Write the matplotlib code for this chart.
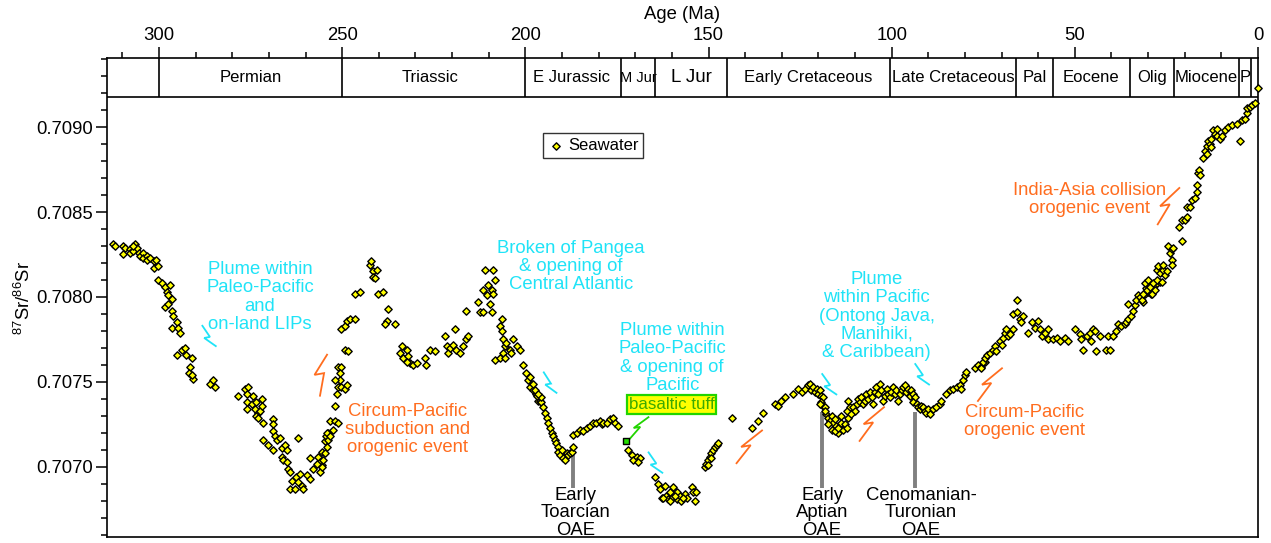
import numpy as np
import matplotlib
matplotlib.use("Agg")
import matplotlib.pyplot as plt

plt.rcParams["font.family"] = ["Liberation Sans", "DejaVu Sans"]
plt.rcParams["mathtext.fontset"] = "custom"
plt.rcParams["mathtext.rm"] = "Liberation Sans"
plt.rcParams["mathtext.it"] = "Liberation Sans:italic"

# ---- Seawater 87Sr/86Sr (age in Ma) ----
permian_age = [312.5, 312.0, 309.7, 309.3, 309.7, 307.9, 307.9, 306.5, 307.0, 306.1, 305.4, 305.2,
               304.3, 304.3, 303.4, 303.4, 302.5, 301.5, 301.5, 300.8, 300.2, 307.0,
               300.2, 299.3, 298.4, 297.0, 297.9, 297.5, 296.5, 298.4, 297.5, 296.5, 296.1, 295.2,
               296.5, 294.7, 294.3, 295.2, 293.8, 292.9, 292.5, 291.1, 291.5, 291.7, 290.8, 291.1,
               286.1, 285.2, 284.7, 278.4, 276.5, 275.6, 276.1, 276.1, 274.7, 276.1, 274.3, 273.8,
               273.4, 272.9, 272.5, 272.0, 272.0, 271.7, 273.5, 272.9,
               268.8, 268.8, 268.8, 268.4, 267.9, 267.0, 271.7, 270.2, 268.8, 266.5, 265.6, 265.2,
               266.5, 266.1, 265.2, 264.7, 264.3, 263.8, 264.3, 262.5, 262.9, 262.0, 261.5, 261.1,
               260.6, 262.0, 258.8, 257.9, 256.5, 255.6, 256.1, 255.6, 254.7, 254.3, 253.4, 253.8,
               259.7, 258.8, 257.0, 256.1]
permian_sr = [.70831, .70830, .70830, .70829, .70825, .70828, .70826, .70831, .70827, .70829, .70826, .70824,
              .70826, .70823, .70824, .70822, .70823, .70821, .70817, .70822, .70818, .70830,
              .70810, .70808, .70806, .70807, .70803, .70801, .70799, .70794, .70796, .70792, .70789, .70785,
              .70782, .70782, .70779, .70766, .70769, .70770, .70766, .70764, .70759, .70755, .70752, .70754,
              .70749, .70751, .70747, .70742, .70746, .70747, .70743, .70738, .70737, .70734, .70742, .70734,
              .70738, .70732, .70733, .70740, .70736, .70726, .70730, .70729,
              .70728, .70725, .70721, .70718, .70716, .70717, .70716, .70713, .70710, .70711, .70713, .70710,
              .70706, .70704, .70703, .70699, .70697, .70692, .70687, .70694, .70687, .70691, .70696, .70689,
              .70687, .70717, .70705, .70699, .70706, .70709, .70703, .70701, .70715, .70718, .70727, .70720,
              .70695, .70693, .70702, .70697]

triassic_age = [255.6, 255.2, 254.7, 254.2, 253.8, 254.2, 253.3, 252.4, 252.0, 251.1, 252.0, 251.5,
                251.1, 250.2, 249.2, 248.8, 250.6, 252.0, 251.1, 250.2, 250.6, 249.2, 248.3, 250.2,
                249.2, 248.8, 247.9, 246.5, 246.5, 245.1, 242.4, 242.0, 241.5, 241.5, 240.6, 241.1,
                240.2, 238.8, 237.4, 237.9, 238.3, 235.6, 233.8, 234.2, 233.3, 232.4, 232.0, 231.5,
                230.6, 229.7, 232.4, 227.4, 227.0, 226.1, 224.7, 222.0, 221.5, 221.1, 220.6, 219.7,
                219.2, 218.8, 217.9, 217.0, 216.1, 215.6, 216.1, 212.9, 212.4, 211.5, 211.1, 210.6,
                210.2, 208.8, 209.2, 208.8, 208.3, 209.7, 209.2, 211.5, 206.5, 207.0, 206.5, 206.1,
                205.6, 206.1, 205.2, 204.2, 203.3, 202.4, 201.5, 203.8, 208.3, 207.0, 205.6, 200.6,
                199.7, 199.2, 198.8, 197.9, 197.0, 196.5]
triassic_sr = [.70700, .70704, .70708, .70712, .70716, .70720, .70718, .70722, .70727, .70726, .70736, .70743,
               .70747, .70747, .70746, .70748, .70751, .70751, .70759, .70759, .70755, .70769, .70768, .70781,
               .70783, .70786, .70787, .70787, .70802, .70803, .70819, .70821, .70815, .70812, .70816, .70811,
               .70802, .70803, .70793, .70786, .70784, .70784, .70771, .70767, .70764, .70769, .70765, .70761,
               .70760, .70761, .70762, .70764, .70760, .70769, .70768, .70777, .70771, .70767, .70770, .70772,
               .70781, .70769, .70767, .70771, .70775, .70777, .70792, .70797, .70791, .70804, .70816, .70801,
               .70807, .70816, .70804, .70802, .70810, .70796, .70791, .70791, .70787, .70783, .70780, .70775,
               .70771, .70767, .70773, .70769, .70775, .70771, .70769, .70767, .70763, .70764, .70764, .70760,
               .70755, .70751, .70747, .70745, .70743, .70739]

jurassic_age = [198.7, 197.8, 197.4, 196.9, 196.0, 195.6, 195.1, 194.6, 194.2, 193.7, 193.3, 192.8,
                192.4, 191.9, 191.5, 191.0, 191.0, 190.6, 190.1, 189.6, 189.2, 188.7, 188.3, 187.8,
                187.4, 186.9, 186.9, 186.0, 185.1, 184.2, 183.3, 182.4, 181.5, 180.6, 179.7, 179.2,
                178.7, 177.8, 176.9, 176.0, 175.6, 174.7, 195.6, 196.5,
                171.9, 171.0, 170.6, 169.6, 168.7, 169.2,
                164.6, 163.7, 163.3, 162.8, 161.9, 161.5, 161.0, 160.6, 160.1, 159.6, 158.7, 158.7,
                157.8, 157.4, 156.5, 156.0, 154.6, 154.2, 153.7, 153.3, 162.4, 160.6, 159.2, 156.9,
                151.0, 150.6, 150.1, 149.6, 149.2, 148.7, 148.3, 147.8, 147.4, 150.1, 149.2, 143.7]
jurassic_sr = [.70753, .70749, .70745, .70742, .70739, .70738, .70735, .70732, .70729, .70726, .70723, .70720,
               .70718, .70716, .70714, .70712, .70709, .70707, .70710, .70705, .70704, .70708, .70707, .70708,
               .70709, .70712, .70719, .70720, .70722, .70721, .70723, .70724, .70726, .70726, .70727, .70725,
               .70726, .70726, .70728, .70729, .70726, .70724, .70741, .70743,
               .70710, .70707, .70704, .70706, .70705, .70703,
               .70694, .70690, .70687, .70682, .70689, .70683, .70681, .70685, .70682, .70688, .70685, .70681,
               .70683, .70680, .70684, .70682, .70688, .70685, .70680, .70685, .70682, .70680, .70683, .70682,
               .70700, .70702, .70704, .70706, .70708, .70710, .70712, .70713, .70714, .70701, .70705, .70729]

cretaceous_age = [138.2, 136.4, 135.2, 131.9, 131.0, 130.1, 129.2, 126.9, 125.5, 124.6,
                  123.7, 122.8, 122.3, 121.9, 121.4, 121.0, 120.5, 120.1, 119.6, 119.2, 118.7, 119.2,
                  118.7, 118.2, 119.6, 117.8, 117.3, 116.9, 116.4, 116.0, 115.5, 115.1, 114.6, 114.2,
                  113.7, 113.3, 112.8, 112.3, 111.9, 112.3, 111.4, 111.9, 110.5, 110.1, 111.0, 109.6,
                  109.2, 108.7, 108.3, 107.8, 107.3, 106.9, 106.4, 106.0, 105.5, 105.1, 104.6, 104.2,
                  103.7, 103.3, 102.8, 102.3, 101.9, 101.4, 101.0, 100.5, 100.1, 99.6, 99.2, 98.7,
                  98.3, 97.8, 97.3, 96.9, 96.4, 96.0, 95.5, 95.1, 94.6, 94.2, 93.7, 94.2,
                  93.2, 92.8, 92.3, 91.9, 91.4, 91.0, 90.5, 90.1, 89.6, 88.7, 87.8, 86.9,
                  86.4, 85.1, 84.2, 83.3, 82.3, 81.4, 81.0, 80.5, 80.1, 79.6, 77.3, 76.4,
                  75.5, 74.6, 118.2, 117.3, 116.4, 115.5, 114.6, 113.7]
cretaceous_sr = [.70723, .70727, .70732, .70737, .70736, .70739, .70741, .70743, .70746, .70744,
                 .70746, .70748, .70749, .70745, .70747, .70744, .70746, .70743, .70745, .70742, .70741, .70738,
                 .70736, .70735, .70737, .70731, .70729, .70727, .70730, .70726, .70728, .70724, .70720, .70724,
                 .70726, .70722, .70725, .70723, .70729, .70733, .70735, .70739, .70735, .70733, .70731, .70737,
                 .70740, .70738, .70741, .70737, .70739, .70743, .70740, .70744, .70741, .70737, .70744, .70747,
                 .70743, .70749, .70745, .70739, .70742, .70746, .70743, .70741, .70744, .70747, .70743, .70745,
                 .70739, .70743, .70745, .70747, .70748, .70744, .70746, .70742, .70745, .70743, .70741, .70738,
                 .70737, .70735, .70734, .70736, .70735, .70733, .70732, .70734, .70731, .70734, .70735, .70737,
                 .70739, .70743, .70745, .70746, .70747, .70748, .70746, .70751, .70754, .70756, .70758, .70760,
                 .70759, .70762, .70733, .70725, .70722, .70721, .70723, .70730]

cenozoic_age = [75.5, 75.0, 74.6, 74.1, 73.2, 72.3, 71.8, 71.4, 70.5, 70.0, 69.6, 69.1,
                68.7, 68.2, 67.7, 66.8, 66.8, 65.9, 65.0, 64.1, 64.6, 65.9, 62.7, 61.8,
                60.9, 60.0, 59.6, 59.1, 58.2, 57.3, 57.3, 55.9, 55.0, 54.1, 52.7, 51.8,
                50.0, 48.7, 48.2, 46.8, 45.9, 45.0, 44.6, 45.5, 47.7, 44.1, 43.2, 41.4,
                40.5, 40.9, 39.6, 38.7, 38.2, 37.3, 36.4, 35.9, 35.5, 34.6, 34.1, 35.5,
                33.7, 33.2, 32.7, 32.3, 31.4, 30.9, 30.5, 30.0, 29.1, 28.6, 28.2, 27.7, 26.8,
                31.7, 31.3, 30.4, 30.8, 29.9, 29.0, 29.5, 28.6, 28.1, 27.7, 27.2, 27.7,
                26.7, 26.3, 25.8, 25.4, 25.8, 24.9, 24.5, 24.0, 23.6, 23.6, 23.6, 23.1,
                20.8, 21.7, 20.8, 19.9, 19.5, 19.5, 18.6, 18.1, 17.2, 16.7, 16.7, 16.3,
                16.0, 15.8, 14.9, 14.5, 14.0, 13.6, 13.1, 12.7, 12.2, 11.7, 11.3, 10.4,
                9.9, 9.0, 8.1, 7.2, 5.8, 4.9, 4.5, 3.6, 3.1, 3.1, 2.2, 1.7, 0.8, 0.1,
                12.7, 14.0, 11.3]
cenozoic_sr = [.70758, .70762, .70764, .70766, .70767, .70769, .70771, .70768, .70774, .70772, .70776, .70779,
               .70781, .70777, .70778, .70781, .70790, .70791, .70787, .70789, .70785, .70798, .70779, .70785,
               .70782, .70786, .70781, .70777, .70779, .70781, .70775, .70775, .70776, .70774, .70776, .70774,
               .70781, .70778, .70775, .70777, .70779, .70781, .70780, .70774, .70769, .70768, .70777, .70769,
               .70769, .70777, .70777, .70780, .70784, .70783, .70784, .70785, .70787, .70789, .70792, .70796,
               .70795, .70798, .70801, .70800, .70797, .70802, .70805, .70803, .70802, .70805, .70807, .70808, .70809,
               .70798, .70802, .70804, .70808, .70810, .70802, .70806, .70808, .70804, .70816, .70818, .70810,
               .70814, .70809, .70816, .70813, .70819, .70815, .70830, .70826, .70828, .70822, .70819, .70829,
               .70833, .70841, .70845, .70845, .70847, .70853, .70853, .70857, .70858, .70862, .70866, .70873,
               .70875, .70872, .70882, .70886, .70889, .70892, .70890, .70893, .70898, .70896, .70895, .70893,
               .70895, .70898, .70900, .70901, .70902, .70892, .70904, .70905, .70908, .70911, .70912, .70913, .70914, .70923,
               .70888, .70884, .70899]

tuff_age = [172.4]
tuff_sr = [.70715]

# ---- Geologic time band ----
period_bounds = [300, 250, 200, 174, 164.5, 145, 100.5, 66, 56, 35, 23, 5.3, 2.0]
period_names = ["Permian", "Triassic", "E Jurassic", "M Jur", "L Jur", "Early Cretaceous",
                "Late Cretaceous", "Pal", "Eocene", "Olig", "Miocene", "P"]
period_mid = [275, 226, 187.5, 169.2, 154.7, 122.8, 83.2, 61, 45.5, 29, 14.2, 3.6]
period_size = [12, 12, 12, 10.5, 13.5, 12, 12, 12, 12, 12, 12, 12]

X_MAX, X_MIN = 314.2, 0.0
Y_MIN, Y_MAX = 0.706588, 0.709406
BAND_BOTTOM = 0.709176

CYAN = "#1FE3F7"
ORANGE = "#FF6D1F"
GREEN = "#22D400"


def bolt(ax, p0, p1, color, jog=0.22):
    """Lightning-style arrow from p0 to p1 (data coords)."""
    t = ax.transData
    a, b = t.transform(p0), t.transform(p1)
    d = b - a
    L = np.hypot(*d)
    k1 = a + 0.55 * d
    k2 = k1 + np.array([-jog * L, -0.04 * L])
    pts = t.inverted().transform(np.vstack([a, k1, k2, b]))
    ax.plot(pts[:, 0], pts[:, 1], color=color, lw=1.3, zorder=4,
            solid_joinstyle="miter", solid_capstyle="butt")


fig = plt.figure(figsize=(12.71, 5.43), dpi=100)
ax = fig.add_axes([107 / 1271, 6 / 543, 1151 / 1271, 479 / 543])
ax.set_xlim(X_MAX, X_MIN)
ax.set_ylim(Y_MIN, Y_MAX)

for s in ax.spines.values():
    s.set_linewidth(1.2)

# ticks
ax.xaxis.tick_top()
ax.xaxis.set_label_position("top")
ax.set_xticks(np.arange(0, 301, 50))
ax.set_xticks(np.arange(0, 311, 10), minor=True)
ax.tick_params(axis="x", which="both", top=True, bottom=False, direction="out",
               labelsize=13.3, pad=2, width=1.1)
ax.tick_params(axis="x", which="major", length=8)
ax.tick_params(axis="x", which="minor", length=4.3)
ax.set_yticks([0.7070, 0.7075, 0.7080, 0.7085, 0.7090])
ax.set_yticklabels(["0.7070", "0.7075", "0.7080", "0.7085", "0.7090"])
ax.set_yticks(np.arange(0.7066, 0.70945, 0.0001), minor=True)
ax.tick_params(axis="y", which="both", direction="out", labelsize=13.3, pad=2, width=1.1)
ax.tick_params(axis="y", which="major", length=8)
ax.tick_params(axis="y", which="minor", length=4)
ax.set_xlabel("Age (Ma)", fontsize=13.3, labelpad=6)
ax.set_ylabel(r"$^{87}$Sr/$^{86}$Sr", fontsize=13.3, labelpad=2)

# time band
ax.axhline(BAND_BOTTOM, color="k", lw=1.2, zorder=2)
ax.vlines(period_bounds, BAND_BOTTOM, Y_MAX, color="k", lw=1.2, zorder=2)
band_mid = (BAND_BOTTOM + Y_MAX) / 2
for name, mid, fs in zip(period_names, period_mid, period_size):
    ax.text(mid, band_mid, name, ha="center", va="center", fontsize=fs, zorder=3)

# OAE bars
oae_age = [186.9, 119.0, 93.5]
oae_top = [0.707082, 0.707324, 0.707324]
oae_labels = ["Early\nToarcian\nOAE", "Early\nAptian\nOAE", "Cenomanian-\nTuronian\nOAE"]
oae_text_x = [186.4, 119.0, 92.0]
ax.vlines(oae_age, 0.706876, oae_top, color="#808080", lw=2.8, zorder=2)
for x, lab in zip(oae_text_x, oae_labels):
    ax.text(x, 0.706730, lab, ha="center", va="center", fontsize=13.3,
            linespacing=1.05, zorder=3)

# data
all_age = np.concatenate([permian_age, triassic_age, jurassic_age, cretaceous_age, cenozoic_age])
all_sr = np.concatenate([permian_sr, triassic_sr, jurassic_sr, cretaceous_sr, cenozoic_sr])
ax.scatter(all_age, all_sr, marker="D", s=14, facecolor="#FFFF00", edgecolor="black",
           linewidth=1.0, zorder=5, clip_on=False, label="Seawater")
ax.scatter(tuff_age, tuff_sr, marker="s", s=14, facecolor="#22DD00", edgecolor="black",
           linewidth=1.0, zorder=6)

leg = ax.legend(loc="upper left", bbox_to_anchor=(0.3788, 0.8434), borderaxespad=0,
                fontsize=12, fancybox=False, frameon=True, handletextpad=0.2,
                borderpad=0.3, handlelength=1.0, scatterpoints=1)
leg.get_frame().set_edgecolor("black")
leg.get_frame().set_linewidth(1.0)

# annotations
ann_kw = dict(ha="center", va="center", fontsize=13.3, linespacing=1.08, zorder=4)
ax.text(272.4, 0.70800, "Plume within\nPaleo-Pacific\nand\non-land LIPs", color=CYAN, **ann_kw)
ax.text(187.6, 0.708182, "Broken of Pangea\n& opening of\nCentral Atlantic", color=CYAN, **ann_kw)
ax.text(159.9, 0.707641, "Plume within\nPaleo-Pacific\n& opening of\nPacific", color=CYAN, **ann_kw)
ax.text(104.1, 0.707888, "Plume\nwithin Pacific\n(Ontong Java,\nManihiki,\n& Caribbean)",
        color=CYAN, **ann_kw)
ax.text(232.2, 0.707218, "Circum-Pacific\nsubduction and\norogenic event", color=ORANGE, **ann_kw)
ax.text(63.8, 0.707269, "Circum-Pacific\norogenic event", color=ORANGE, **ann_kw)
ax.text(45.9, 0.708576, "India-Asia collision\norogenic event", color=ORANGE, **ann_kw)
ax.text(160.1, 0.707367, "basaltic tuff", color="#3CAA00", ha="center", va="center",
        fontsize=12.2, zorder=4,
        bbox=dict(boxstyle="square,pad=0.12", facecolor="#FFFF00", edgecolor=GREEN, linewidth=1.6))

cyan_from = [(288.3, 0.707835), (195.1, 0.707561), (166.5, 0.707090), (119.1, 0.707551), (93.7, 0.707610)]
cyan_to = [(284.3, 0.707708), (191.3, 0.707433), (162.4, 0.706963), (114.9, 0.707424), (89.6, 0.707482)]
orange_from = [(256.1, 0.707414), (142.5, 0.707018), (108.9, 0.707149), (76.6, 0.707384), (27.5, 0.708423)]
orange_to = [(254.0, 0.707665), (135.2, 0.707218), (101.9, 0.707355), (69.7, 0.707584), (21.3, 0.708645)]
for p0, p1 in zip(cyan_from, cyan_to):
    bolt(ax, p0, p1, CYAN)
for p0, p1 in zip(orange_from, orange_to):
    bolt(ax, p0, p1, ORANGE)
bolt(ax, (171.6, 0.707163), (166.2, 0.707296), GREEN)

fig.savefig("out.png", dpi=100)
